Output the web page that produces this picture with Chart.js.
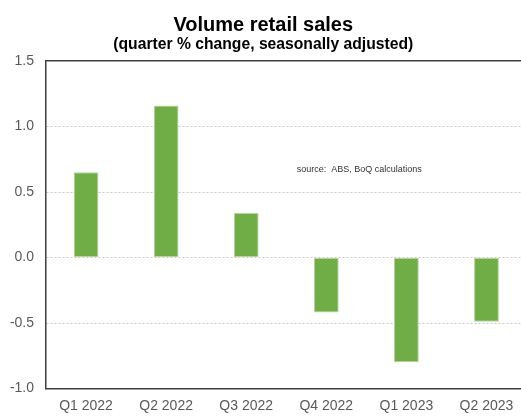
<!DOCTYPE html>
<html>
<head>
<meta charset="utf-8">
<script src="https://cdn.jsdelivr.net/npm/chart.js@4"></script>
<style>
  html, body { margin: 0; padding: 0; background: #fff; overflow: hidden; }
  #wrap { width: 540px; height: 416px; }
</style>
</head>
<body>
<div id="wrap"><canvas id="c" width="540" height="416"></canvas></div>
<script>
// Quarterly change in retail sales volumes (%, seasonally adjusted)
const quarters = ['Q1 2022', 'Q2 2022', 'Q3 2022', 'Q4 2022', 'Q1 2023', 'Q2 2023'];
const volumeChange = [0.65, 1.16, 0.34, -0.42, -0.80, -0.49];
const axisMin = -1.0;
const axisMax = 1.5;
const axisStep = 0.5;
const titleText = 'Volume retail sales';
const subtitleText = '(quarter % change, seasonally adjusted)';
const sourceText = 'source:  ABS, BoQ calculations';

const barGreen = '#70AD47';
const barEdge = '#b3d59c';
const axisDark = '#3f3f3f';
const gridGrey = '#c9c9c9';
const tickGrey = '#595959';

// Small source note placed in data space on the plot
const sourceNote = {
  id: 'sourceNote',
  afterDatasetsDraw(chart) {
    const { ctx, scales } = chart;
    const x = scales.x.getPixelForValue(2.63);
    const y = scales.y.getPixelForValue(0.67);
    ctx.save();
    ctx.font = '9px "Liberation Sans", Arial, sans-serif';
    ctx.fillStyle = '#333';
    ctx.textAlign = 'left';
    ctx.textBaseline = 'middle';
    ctx.fillText(sourceText, x, y);
    ctx.restore();
  }
};

new Chart(document.getElementById('c'), {
  type: 'bar',
  data: {
    labels: quarters,
    datasets: [{
      data: volumeChange,
      backgroundColor: barGreen,
      borderColor: barEdge,
      borderWidth: 1,
      borderSkipped: false,
      categoryPercentage: 1,
      barPercentage: 0.31
    }]
  },
  options: {
    responsive: false,
    animation: false,
    layout: { padding: { left: 0, right: 13.5, top: 0, bottom: 0 } },
    plugins: {
      legend: { display: false },
      tooltip: { enabled: false },
      title: {
        display: true,
        text: titleText,
        color: '#000',
        font: { family: '"Liberation Sans", Arial, sans-serif', size: 20, weight: 'bold', lineHeight: 1 },
        padding: { top: 15, bottom: 2 }
      },
      subtitle: {
        display: true,
        text: subtitleText,
        color: '#000',
        font: { family: '"Liberation Sans", Arial, sans-serif', size: 15.7, weight: 'bold', lineHeight: 1 },
        padding: { top: 0, bottom: 8.3 }
      }
    },
    scales: {
      x: {
        type: 'category',
        offset: true,
        grid: { display: false, drawTicks: false },
        border: { display: true, color: axisDark, width: 1.5 },
        ticks: {
          color: tickGrey,
          font: { family: '"Liberation Sans", Arial, sans-serif', size: 14 },
          padding: 9,
          maxRotation: 0,
          autoSkip: false
        },
        afterFit(scale) { scale.height = 27.5; }
      },
      xTop: {
        type: 'category',
        position: 'top',
        offset: true,
        grid: { display: false, drawTicks: false },
        border: { display: true, color: axisDark, width: 1.5 },
        ticks: { display: false },
        afterFit(scale) { scale.height = 0; }
      },
      y: {
        min: axisMin,
        max: axisMax,
        grid: {
          drawTicks: false,
          color(ctx) {
            const v = ctx.tick ? ctx.tick.value : null;
            if (v === axisMax || v === axisMin) return 'rgba(0,0,0,0)';
            return gridGrey;
          },
          lineWidth: 1
        },
        border: { display: true, color: axisDark, width: 1.5, dash: [2, 2] },
        ticks: {
          stepSize: axisStep,
          color: tickGrey,
          padding: 12,
          font: { family: '"Liberation Sans", Arial, sans-serif', size: 14 },
          callback: (v) => Number(v).toFixed(1)
        },
        afterFit(scale) { scale.width = 46; }
      }
    }
  },
  plugins: [sourceNote]
});
</script>
</body>
</html>
